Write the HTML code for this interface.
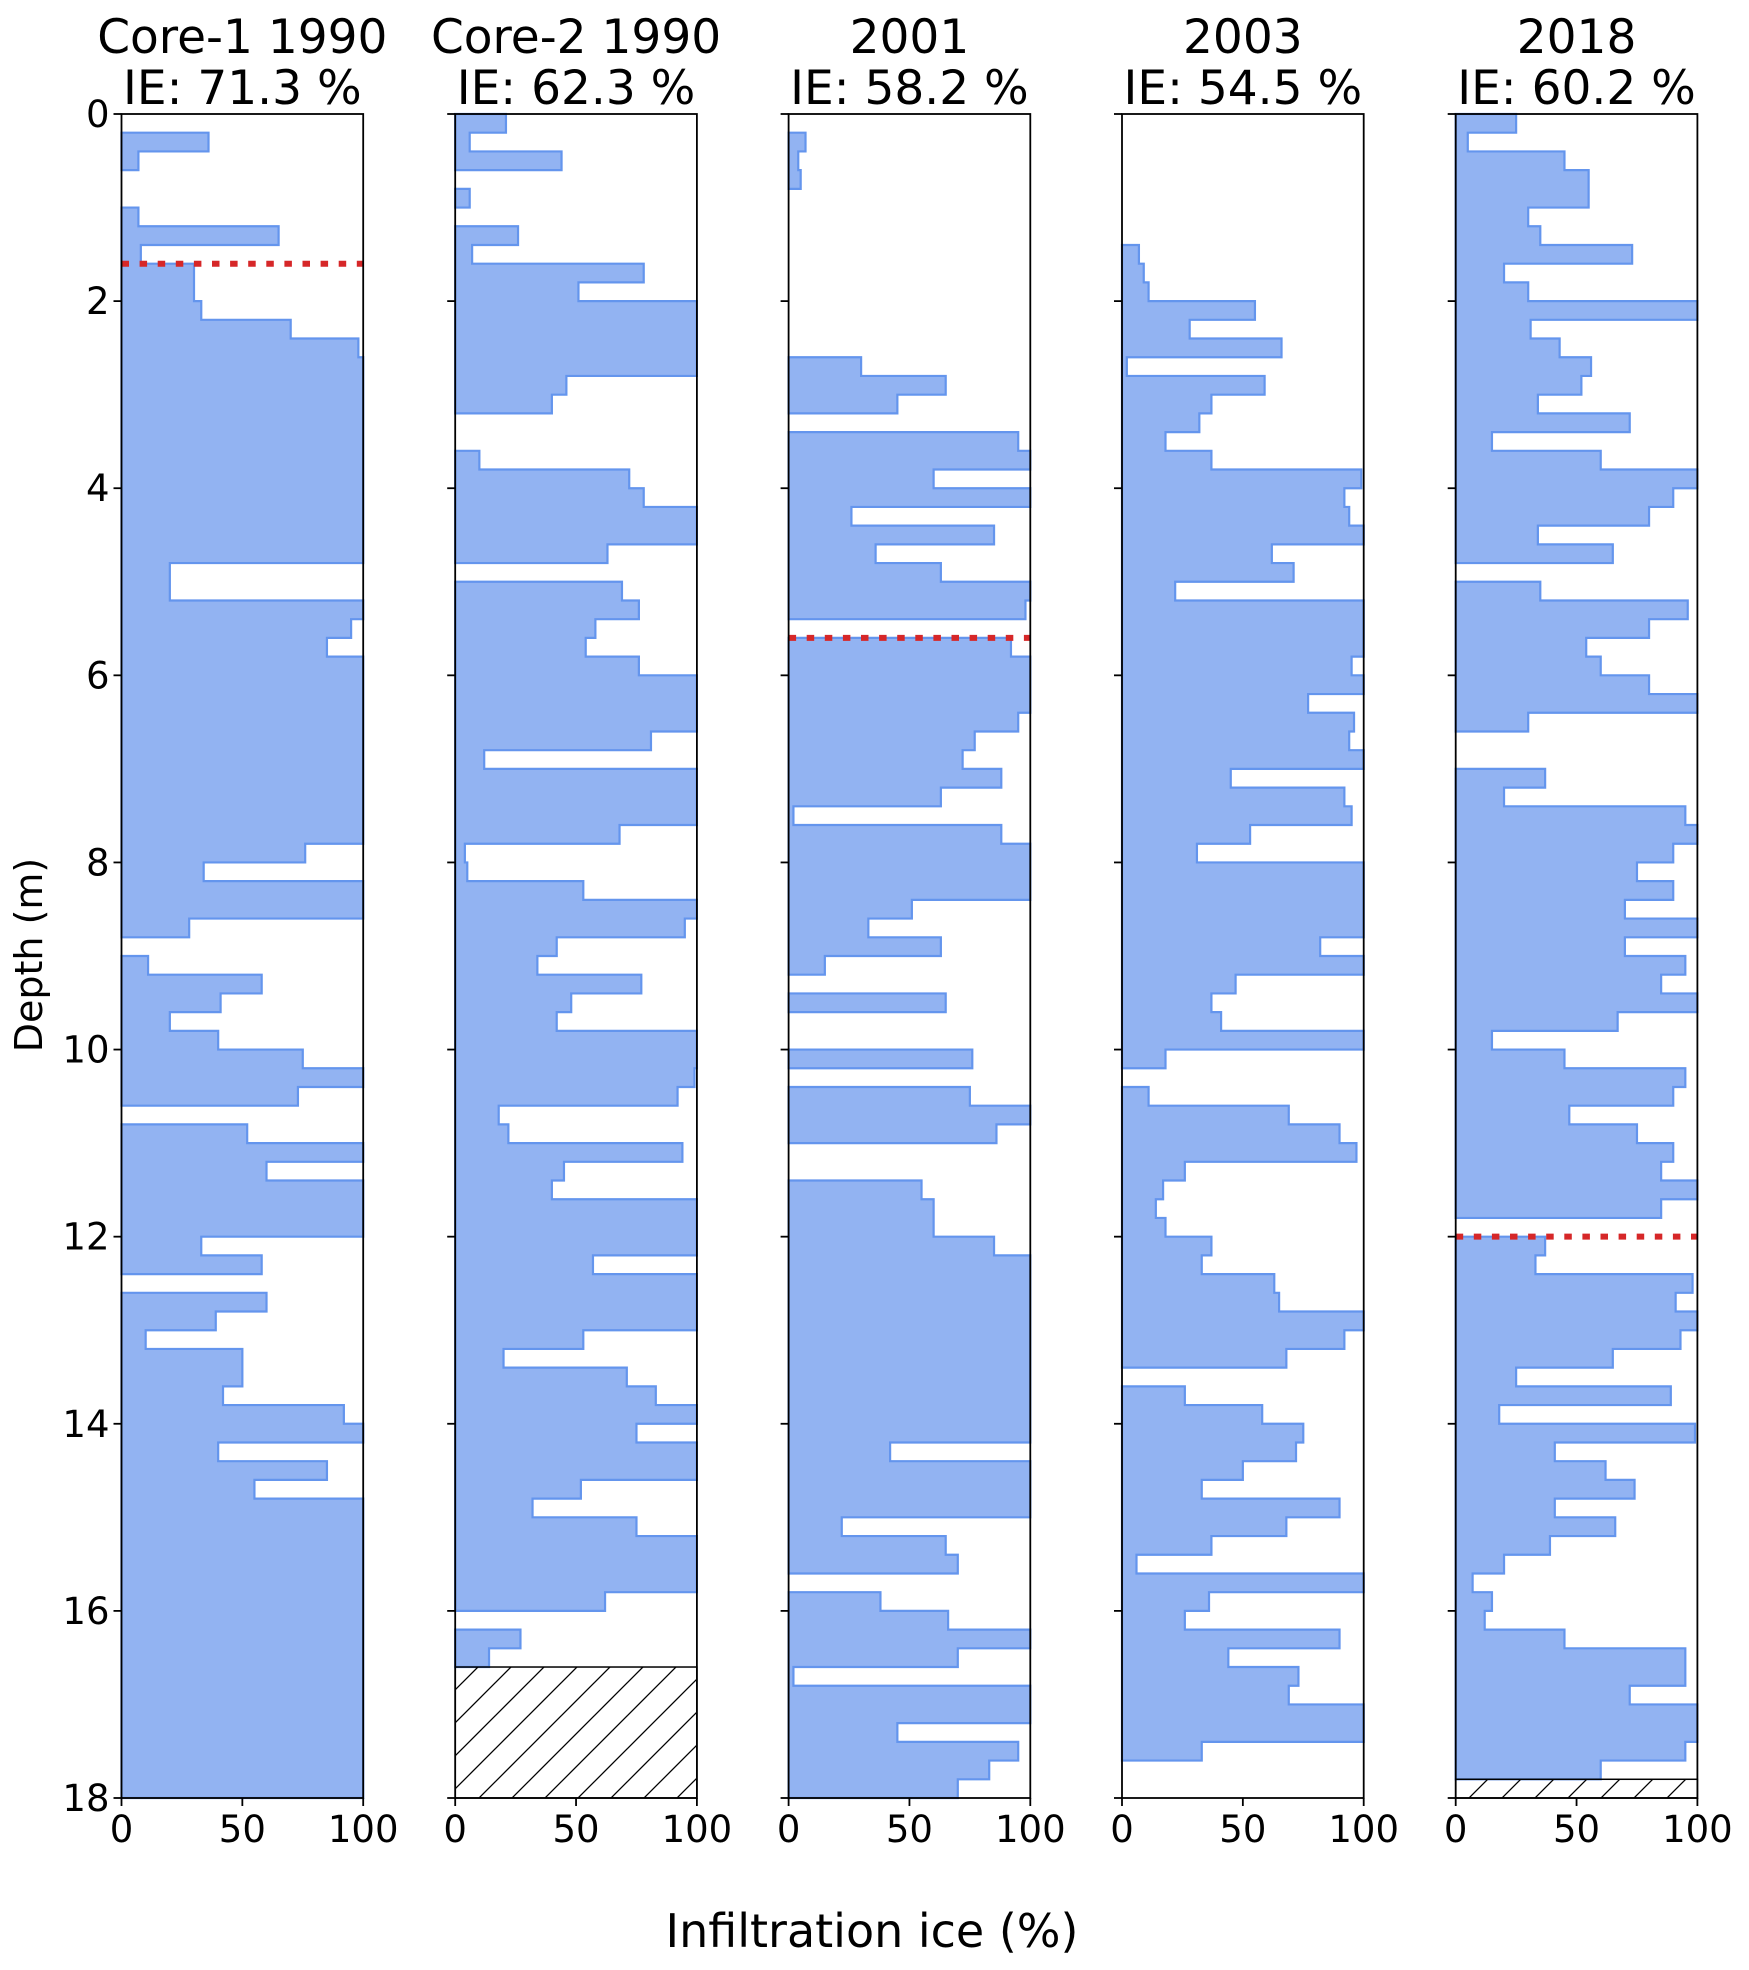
<!DOCTYPE html>
<html><head><meta charset="utf-8"><style>
html,body{margin:0;padding:0;background:#fff;}
svg{display:block;font-family:"DejaVu Sans","Liberation Sans",sans-serif;}
</style></head><body>
<svg id="chart" width="1749" height="1970" viewBox="0 0 1749 1970" xmlns="http://www.w3.org/2000/svg">
<defs>
<pattern id="hatch" patternUnits="userSpaceOnUse" width="33" height="33">
<line x1="-5" y1="38" x2="38" y2="-5" stroke="#000" stroke-width="1.3"/>
<line x1="-20" y1="20" x2="20" y2="-20" stroke="#000" stroke-width="1.3"/>
<line x1="13" y1="53" x2="53" y2="13" stroke="#000" stroke-width="1.3"/>
</pattern>
<clipPath id="plotclip"><rect x="0" y="0" width="1749" height="1970"/></clipPath>
</defs>
<text x="0" y="0" transform="translate(42,955) rotate(-90)" text-anchor="middle" font-size="38">Depth (m)</text>
<text x="872" y="1947" text-anchor="middle" font-size="46">Infiltration ice (%)</text>
</svg>
<script>
const panelTitles = ["Core-1 1990","Core-2 1990","2001","2003","2018"];
const panelIE = ["IE: 71.3 %","IE: 62.3 %","IE: 58.2 %","IE: 54.5 %","IE: 60.2 %"];
const depthStep = 0.2;
const core1 = [0,36,7,0,0,7,65,8,30,30,33,70,98,100,100,100,100,100,100,100,100,100,100,100,20,20,100,95,85,100,100,100,100,100,100,100,100,100,100,76,34,100,100,28,0,11,58,41,20,40,75,100,73,0,52,100,60,100,100,100,33,58,0,60,39,10,50,50,42,92,100,40,85,55,100,100,100,100,100,100,100,100,100,100,100,100,100,100,100,100];
const core2 = [21,6,44,0,6,0,26,7,78,51,100,100,100,100,46,40,0,0,10,72,78,100,100,63,0,69,76,58,54,76,100,100,100,81,12,100,100,100,68,4,5,53,100,95,42,34,77,48,42,100,100,99,92,18,22,94,45,40,100,100,100,57,100,100,100,53,20,71,83,100,75,100,100,52,32,75,100,100,100,62,0,27,14,0,0,0,0,0,0,0];
const y2001 = [0,7,4,5,0,0,0,0,0,0,0,0,0,30,65,45,0,95,100,60,100,26,85,36,63,100,98,0,92,100,100,100,95,77,72,88,63,2,88,100,100,100,51,33,63,15,0,65,0,0,76,0,75,100,86,0,0,55,60,60,85,100,100,100,100,100,100,100,100,100,100,42,100,100,100,22,65,70,0,38,66,100,70,2,100,100,45,95,83,70];
const y2003 = [0,0,0,0,0,0,0,7,9,11,55,28,66,2,59,37,32,18,37,99,92,94,100,62,71,22,100,100,100,95,100,77,96,94,100,45,92,95,53,31,100,100,100,100,82,100,47,37,41,100,18,0,11,69,90,97,26,17,14,18,37,33,63,65,100,92,68,0,26,58,75,72,50,33,90,68,37,6,100,36,26,90,44,73,69,100,100,33,0,0];
const y2018 = [25,5,45,55,55,30,35,73,20,30,100,31,43,56,52,34,72,15,60,100,90,80,34,65,0,35,96,80,54,60,80,100,30,0,0,37,20,95,100,90,75,90,70,100,70,95,85,100,67,15,45,95,90,47,75,90,85,100,85,0,37,33,98,91,100,93,65,25,89,18,99,41,62,74,41,66,39,20,7,15,12,45,95,95,72,100,100,95,60,0];
const hatchStart = [null,16.6,null,null,17.8];
const redLineDepth = [1.6,null,5.6,null,12.0];
const yTicks = [0,2,4,6,8,10,12,14,16,18];
const xTicks = [0,50,100];

const series = [core1,core2,y2001,y2003,y2018];
const NS = "http://www.w3.org/2000/svg";
const svg = document.getElementById("chart");
const panelLeft = [121.5,455.2,788.6,1122,1455.7];
const panelW = 241.7, plotTop = 114, plotBottom = 1798, maxDepth = 18;
function yScale(d){ return plotTop + d/maxDepth*(plotBottom-plotTop); }
function xScale(p,v){ return panelLeft[p] + v/100*panelW; }
function mk(tag, attrs, parent){ const e=document.createElementNS(NS,tag); for(const k in attrs) e.setAttribute(k,attrs[k]); (parent||svg).appendChild(e); return e; }

series.forEach((vals,p)=>{
  const g = mk("g",{});
  
  
  const L = panelLeft[p], R = L+panelW, cx = L+panelW/2;
  const t1 = mk("text",{x:cx,y:53,"text-anchor":"middle","font-size":"47"},g);
  t1.textContent = panelTitles[p];
  
  
  const t2 = mk("text",{x:cx,y:104,"text-anchor":"middle","font-size":"47"},g);
  t2.textContent = panelIE[p];
  
  
  let i=0;
  while(i<vals.length){
    if(!vals[i]){ i++; continue; }
    let j=i; let d="M"+xScale(p,0)+","+yScale(i*depthStep);
    while(j<vals.length && vals[j]){
      d+=" L"+xScale(p,vals[j])+","+yScale(j*depthStep)+" L"+xScale(p,vals[j])+","+yScale((j+1)*depthStep);
      j++;
    }
    d+=" L"+xScale(p,0)+","+yScale(j*depthStep)+" Z";
    const path = mk("path",{d:d,fill:"#92b3f2",stroke:"#6495ed","stroke-width":"2.2","stroke-linejoin":"miter"},g);
    
    
    i=j;
  }
  if(hatchStart[p]!==null){
    const h = mk("rect",{x:L,y:yScale(hatchStart[p]),width:panelW,height:yScale(maxDepth)-yScale(hatchStart[p]),fill:"url(#hatch)",stroke:"#000","stroke-width":"1.5"},g);
    
    
  }
  if(redLineDepth[p]!==null){
    const rl = mk("line",{x1:L,x2:R,y1:yScale(redLineDepth[p]),y2:yScale(redLineDepth[p]),stroke:"#d62728","stroke-width":"6","stroke-dasharray":"7.5 10.6"},g);
    
    
  }
  const frame = mk("rect",{x:L,y:plotTop,width:panelW,height:plotBottom-plotTop,fill:"none",stroke:"#000","stroke-width":"1.8"},g);
  
  
  yTicks.forEach(t=>{
    const tk = mk("line",{x1:L-8,x2:L,y1:yScale(t),y2:yScale(t),stroke:"#000","stroke-width":"1.8"},g);
    
    
    if(p===0){
      const tl = mk("text",{x:L-12,y:yScale(t)+13,"text-anchor":"end","font-size":"37"},g);
      tl.textContent = String(t);
      
      
    }
  });
  xTicks.forEach(t=>{
    const tk = mk("line",{x1:xScale(p,t),x2:xScale(p,t),y1:plotBottom,y2:plotBottom+8,stroke:"#000","stroke-width":"1.8"},g);
    
    
    const tl = mk("text",{x:xScale(p,t),y:plotBottom+44,"text-anchor":"middle","font-size":"37"},g);
    tl.textContent = String(t);
    
    
  });
});
</script>
</body></html>
